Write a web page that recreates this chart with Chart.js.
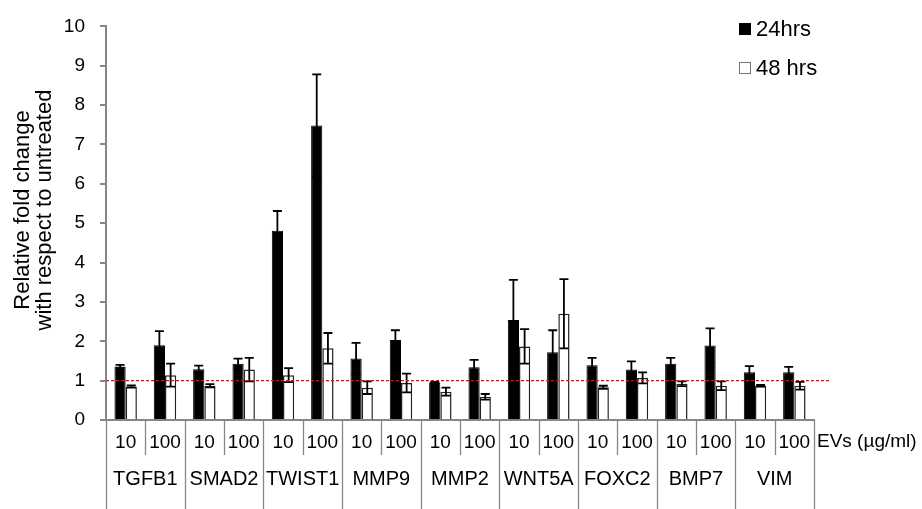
<!DOCTYPE html>
<html>
<head>
<meta charset="utf-8">
<script src="https://cdn.jsdelivr.net/npm/chart.js@4.4.0/dist/chart.umd.min.js"></script>
<style>
  body { margin: 0; background: #fff; }
  #wrap { width: 922px; height: 509px; }
</style>
</head>
<body>
<div id="wrap"><canvas id="myChart"></canvas></div>
<script>
const genes = ["TGFB1", "SMAD2", "TWIST1", "MMP9", "MMP2", "WNT5A", "FOXC2", "BMP7", "VIM"];
const doses = ["10", "100"];
const labels = [];
genes.forEach(() => doses.forEach(d => labels.push(d)));

// mean fold change, two doses per gene
const values24 = [1.36, 1.90, 1.29, 1.43, 4.81, 7.48, 1.56, 2.03, 0.95, 1.34, 2.54, 1.72, 1.39, 1.28, 1.43, 1.89, 1.21, 1.21];
const err24 = [0.04, 0.36, 0.09, 0.13, 0.50, 1.30, 0.40, 0.25, 0.02, 0.19, 1.02, 0.56, 0.19, 0.21, 0.15, 0.44, 0.16, 0.14];
const values48 = [0.85, 1.14, 0.87, 1.28, 1.14, 1.82, 0.82, 0.94, 0.72, 0.59, 1.87, 2.70, 0.83, 1.07, 0.92, 0.87, 0.87, 0.87];
const err48 = [0.03, 0.29, 0.04, 0.30, 0.18, 0.39, 0.16, 0.24, 0.10, 0.07, 0.44, 0.88, 0.04, 0.14, 0.06, 0.11, 0.02, 0.10];
const yTicks = [0, 1, 2, 3, 4, 5, 6, 7, 8, 9, 10];
const yTitle = ["Relative fold change", "with respect to untreated"];
const baseline = 1;

const axisGray = "#868686";
const FONT = "Arial, 'Liberation Sans', sans-serif";

// error bars, reference line, table labels, legend, y title
const extras = {
    id: "extras",
    afterDatasetsDraw(chart) {
        const ctx = chart.ctx;
        const y = chart.scales.y;
        ctx.save();
        ctx.strokeStyle = "#000";
        ctx.lineWidth = 1.8;
        chart.data.datasets.forEach((ds, i) => {
            const meta = chart.getDatasetMeta(i);
            meta.data.forEach((bar, j) => {
                const v = ds.data[j], e = ds.errors[j];
                const top = y.getPixelForValue(v + e);
                const bot = y.getPixelForValue(v - e);
                const cap = 4.5;
                ctx.beginPath();
                ctx.moveTo(bar.x, top); ctx.lineTo(bar.x, bot);
                ctx.moveTo(bar.x - cap, top); ctx.lineTo(bar.x + cap, top);
                ctx.moveTo(bar.x - cap, bot); ctx.lineTo(bar.x + cap, bot);
                ctx.stroke();
            });
        });
        // red dashed line at 1
        const a = chart.chartArea;
        const yb = y.getPixelForValue(baseline);
        ctx.strokeStyle = "#ff0000";
        ctx.lineWidth = 1.4;
        ctx.setLineDash([3, 2]);
        ctx.beginPath();
        ctx.moveTo(a.left, yb);
        ctx.lineTo(a.right + 15, yb);
        ctx.stroke();
        ctx.restore();
    },
    afterDraw(chart) {
        const ctx = chart.ctx;
        const x = chart.scales.x;
        const a = chart.chartArea;
        const step = x.getPixelForValue(1) - x.getPixelForValue(0);
        ctx.save();
        // separators under the axis
        ctx.strokeStyle = axisGray;
        ctx.lineWidth = 1.3;
        for (let i = 0; i <= labels.length; i++) {
            const px = Math.round(x.getPixelForValue(0) - step / 2 + i * step) + 0.5;
            ctx.beginPath();
            ctx.moveTo(px, a.bottom);
            ctx.lineTo(px, i % 2 === 0 ? chart.height : a.bottom + 35);
            ctx.stroke();
        }
        ctx.fillStyle = "#000";
        ctx.font = "20px " + FONT;
        ctx.textAlign = "center";
        ctx.textBaseline = "middle";
        genes.forEach((g, k) => {
            const cx = (x.getPixelForValue(2 * k) + x.getPixelForValue(2 * k + 1)) / 2;
            ctx.fillText(g, cx, a.bottom + 59);
        });
        ctx.font = "19px " + FONT;
        ctx.textAlign = "left";
        ctx.fillText("EVs (\u00b5g/ml)", a.right + 3, a.bottom + 22);

        // legend
        ctx.font = "22px " + FONT;
        chart.data.datasets.forEach((ds, i) => {
            const ly = 29 + i * 39;
            ctx.fillStyle = ds.backgroundColor;
            ctx.fillRect(739, ly - 6, 12, 12);
            ctx.strokeStyle = i === 0 ? "#000" : "#777";
            ctx.lineWidth = 1;
            ctx.strokeRect(739.5, ly - 5.5, 11, 11);
            ctx.fillStyle = "#000";
            ctx.fillText(ds.label, 756, ly + 1);
        });

        // y title
        ctx.translate(0, 210);
        ctx.rotate(-Math.PI / 2);
        ctx.textAlign = "center";
        ctx.fillText(yTitle[0], 0, 23);
        ctx.fillText(yTitle[1], 0, 45);
        ctx.restore();
    }
};

const config = {
    type: "bar",
    data: {
        labels: labels,
        datasets: [
            {
                label: "24hrs",
                data: values24,
                errors: err24,
                backgroundColor: "#000",
                borderColor: "#000",
                borderWidth: 1,
            },
            {
                label: "48 hrs",
                data: values48,
                errors: err48,
                backgroundColor: "#fff",
                borderColor: "#222",
                borderWidth: 1.5,
            },
        ],
    },
    options: {
        responsive: true,
        maintainAspectRatio: false,
        animation: false,
        layout: { padding: { top: 20, right: 108, left: 0, bottom: 0 } },
        categoryPercentage: 0.57,
        barPercentage: 1.0,
        plugins: {
            legend: { display: false },
            tooltip: { enabled: false },
        },
        scales: {
            x: {
                grid: { display: false },
                border: { display: true, color: axisGray, width: 2 },
                ticks: {
                    color: "#000",
                    font: { family: FONT, size: 19 },
                    padding: 3,
                    maxRotation: 0,
                    autoSkip: false,
                },
                afterFit(scale) { scale.height = 89; },
            },
            y: {
                min: 0,
                max: 10,
                afterBuildTicks(scale) { scale.ticks = yTicks.map(v => ({ value: v })); },
                grid: {
                    drawOnChartArea: false,
                    color: axisGray,
                    lineWidth: 2,
                    tickLength: 6,
                },
                border: { display: true, color: axisGray, width: 2 },
                ticks: {
                    color: "#000",
                    font: { family: FONT, size: 19 },
                    padding: 15,
                },
                afterFit(scale) { scale.width = 106; },
            },
        },
    },
    plugins: [extras],
};

var myChart = new Chart(document.getElementById("myChart"), config);
</script>
</body>
</html>
